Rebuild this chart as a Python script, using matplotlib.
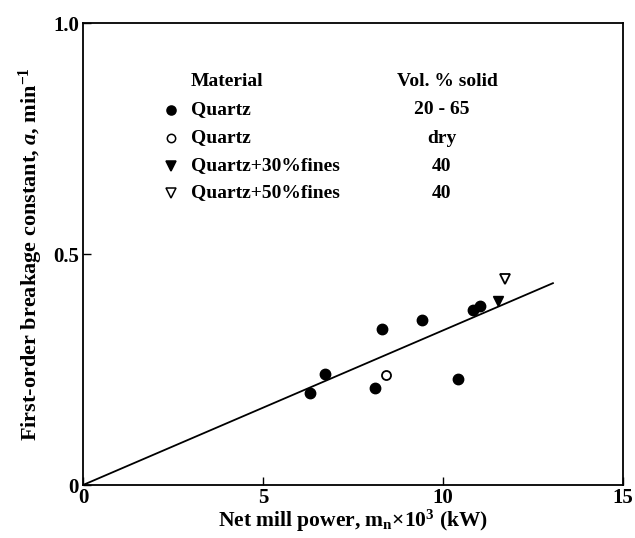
import matplotlib
matplotlib.use("Agg")
import matplotlib.pyplot as plt
import numpy as np

# Data
quartz_x = [6.31, 6.72, 8.11, 8.30, 9.41, 10.43, 10.83, 11.03]
quartz_y = [0.199, 0.240, 0.211, 0.338, 0.357, 0.229, 0.378, 0.387]
quartz_dry_x = [8.42]
quartz_dry_y = [0.238]
fines30_x = [11.52]
fines30_y = [0.398]
fines50_x = [11.74]
fines50_y = [0.447]
fit_x = [0.0, 13.06]
fit_y = [0.0, 0.437]

legend_materials = ["Quartz", "Quartz", "Quartz+30%fines", "Quartz+50%fines"]
legend_solids = ["20 - 65", "dry", "40", "40"]

plt.rcParams['font.family'] = ['Liberation Serif', 'DejaVu Serif']
plt.rcParams['font.weight'] = 'bold'
plt.rcParams['mathtext.fontset'] = 'custom'
plt.rcParams['mathtext.rm'] = 'Liberation Serif:bold'
plt.rcParams['mathtext.it'] = 'Liberation Serif:bold:italic'
plt.rcParams['mathtext.bf'] = 'Liberation Serif:bold'

fig = plt.figure(figsize=(6.35, 5.38), dpi=100)
ax = fig.add_axes([0.1307, 0.0985, 0.850, 0.8585])

ax.plot(fit_x, fit_y, color='black', lw=1.3)
ms = 7.5
ax.plot(quartz_x, quartz_y, 'o', color='black', ms=ms, zorder=3)
ax.plot(quartz_dry_x, quartz_dry_y, 'o', mfc='white', mec='black', mew=1.3, ms=ms - 1, zorder=3)
ax.plot(fines30_x, fines30_y, 'v', color='black', ms=ms, zorder=3)
ax.plot(fines50_x, fines50_y, 'v', mfc='white', mec='black', mew=1.3, ms=ms, zorder=3)

ax.set_xlim(0, 15)
ax.set_ylim(0, 1.0)
ax.set_xticks([0, 5, 10, 15])
ax.set_xticklabels(['0', '5', '10', '15'])
ax.set_yticks([0, 0.5, 1.0])
ax.set_yticklabels(['0', '0.5', '1.0'])
ax.tick_params(axis='both', direction='in', length=6, width=1, labelsize=15, pad=3)
ax.tick_params(axis='x', pad=2)
for s in ax.spines.values():
    s.set_linewidth(1.3)

ax.set_xlabel(r'Net mill power, m$_\mathrm{n}$$\times$10$^3$ (kW)', fontsize=15.5, fontweight='bold', labelpad=0)
ax.set_ylabel(r'First-order breakage constant, $\mathit{a}$, min$^{-1}$', fontsize=16, fontweight='bold', labelpad=6)

def px2data(px, py):
    disp = (px, 538 - py)
    return ax.transData.inverted().transform(disp)

fs = 14
hx, hy = px2data(191, 82)
ax.text(hx, hy, 'Material', fontsize=fs, fontweight='bold', va='center', ha='left')
sx, sy = px2data(447, 82)
ax.text(sx, sy, 'Vol. % solid', fontsize=fs, fontweight='bold', va='center', ha='center')

rows_y = [110, 138, 166, 193]
markers = [('o', 'black', 6.5), ('o', 'white', 6), ('v', 'black', 6.5), ('v', 'white', 6.5)]
for i, (mat, sol) in enumerate(zip(legend_materials, legend_solids)):
    mx, my = px2data(171, rows_y[i])
    m, fc, s = markers[i]
    ax.plot([mx], [my], m, mfc=fc, mec='black', mew=1.1, ms=s, clip_on=False)
    tx, ty = px2data(191, rows_y[i])
    ax.text(tx, ty, mat, fontsize=fs, fontweight='bold', va='center', ha='left')
    vx, vy = px2data(442, rows_y[i])
    ax.text(vx, vy, sol, fontsize=fs, fontweight='bold', va='center', ha='center')

fig.savefig('out.png', dpi=100)
